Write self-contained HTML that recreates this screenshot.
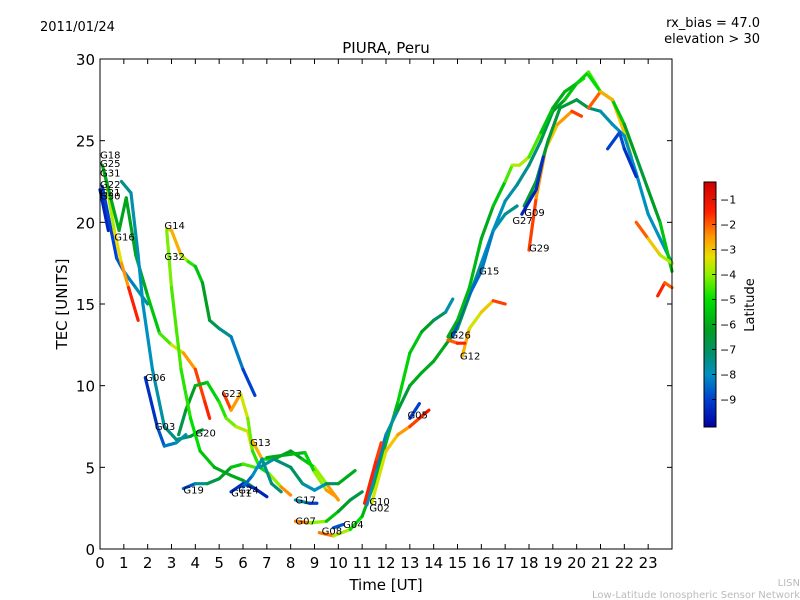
<!DOCTYPE html>
<html><head><meta charset="utf-8"><style>
body{margin:0;background:#fff;}
svg{display:block;font-family:"DejaVu Sans","Liberation Sans",sans-serif;}
</style></head><body>
<svg id="chart" width="800" height="600" viewBox="0 0 800 600" xmlns="http://www.w3.org/2000/svg">
<defs>
<linearGradient id="cbg" x1="0" y1="1" x2="0" y2="0" gradientUnits="objectBoundingBox"></linearGradient>
</defs>
<rect x="0" y="0" width="800" height="600" fill="#fff"/>
<text x="40" y="31" font-size="13">2011/01/24</text>
<text x="760" y="27" font-size="13" text-anchor="end">rx_bias = 47.0</text>
<text x="760" y="43" font-size="13" text-anchor="end">elevation &gt; 30</text>
<text x="386" y="53" font-size="15" text-anchor="middle">PIURA, Peru</text>
<g id="marks"></g>
<g id="glabels"></g>
<rect x="100" y="59" width="572" height="490" fill="none" stroke="#000" stroke-width="1"/>
<g id="xaxis"></g>
<g id="yaxis"></g>
<text x="386" y="590" font-size="15" text-anchor="middle">Time [UT]</text>
<text x="67" y="304" font-size="15" text-anchor="middle" transform="rotate(-90 67 304)">TEC [UNITS]</text>
<g id="cbar"></g>
<text x="754" y="305" font-size="13" text-anchor="middle" transform="rotate(-90 754 305)">Latitude</text>
<text x="800" y="586" font-size="10" fill="#bbb" text-anchor="end">LISN</text>
<text x="800" y="598" font-size="10" fill="#bbb" text-anchor="end">Low-Latitude Ionospheric Sensor Network</text>
</svg>
<script>
const tracks = [
 [[0,22,-9.5],[0.35,19.5,-9.5]],
 [[0.1,22.2,-9],[0.7,17.8,-9],[1.0,17,-8.5],[1.5,16,-8],[2,15,-7.5]],
 [[0.2,23,-4],[0.6,19.5,-3.5],[0.9,17.5,-3],[1.2,16,-2],[1.6,14,-1]],
 [[0.1,23.5,-6],[0.8,19.5,-6],[1.1,21.5,-6.2],[1.5,18,-6],[2,15.5,-6],[2.5,13.2,-5],[3,12.5,-4],[3.5,12,-3],[4,11,-2],[4.4,9,-1.5],[4.6,8,-1.5]],
 [[0.9,22.5,-7.5],[1.3,21.8,-7.5],[1.6,18,-8],[1.8,15,-8],[2.2,11,-8],[2.7,7.5,-7.5],[3.2,6.7,-7.2],[3.8,6.9,-7],[4.3,7.3,-6]],
 [[1.9,10.5,-9.5],[2.4,7.5,-9],[2.7,6.3,-8.5],[3.2,6.5,-8],[3.6,7,-7.5]],
 [[3.3,7,-7],[3.6,8.5,-6.5],[4.0,10,-6],[4.5,10.2,-5.5],[5,9,-5],[5.3,8,-4.5],[5.7,7.5,-4],[6.2,7.2,-3.5],[6.4,6,-3]],
 [[2.8,19.6,-3.5],[3.0,19.5,-2.5],[3.4,18,-3],[3.7,17.6,-4.5],[4,17.3,-5],[4.3,16.3,-6],[4.6,14,-6.5],[5,13.5,-7],[5.5,13,-8],[6,11,-8.5],[6.5,9.4,-9.5]],
 [[2.8,19.5,-3.8],[3.0,16,-4.5],[3.4,11,-4.5],[3.8,8,-5],[4.2,6,-5],[4.8,5,-6],[5.5,4.5,-6],[6,4.2,-6],[6.5,3.7,-7]],
 [[5.2,9.5,-1.5],[5.5,8.5,-2],[5.9,9.5,-3],[6.2,8,-4],[6.4,6,-4.5],[6.7,5,-5],[7.1,4.6,-5],[7.6,3.8,-3],[8,3.3,-1.8]],
 [[6.4,6.6,-1.5],[6.8,5.5,-4],[7.3,5.5,-6],[8,6,-6.5],[8.5,5.5,-6],[9,5,-5],[9.5,4,-3],[10,3,-2]],
 [[7,5.6,-6],[8,5.8,-6],[8.6,5.9,-5.5],[9,4.7,-5],[9.5,3.6,-3],[9.9,3.2,-2]],
 [[6.7,5,-8],[7.3,5.5,-7.5],[8,5,-7],[8.5,4,-7],[9,3.6,-8.5],[9.5,4,-7.5],[10,4,-6.5],[10.7,4.8,-5.5]],
 [[3.5,3.7,-9.5],[4,4,-8],[4.5,4,-7],[5,4.3,-6.5],[5.5,5,-6],[6,5.2,-5],[6.5,5,-4]],
 [[5.5,3.5,-9.5],[6,4,-9],[6.5,3.7,-9.5],[7,3.2,-9.5]],
 [[6,3.8,-9],[6.4,4.5,-8],[6.8,5.5,-8],[7.2,4,-7],[7.6,3.5,-7.5]],
 [[8.2,3,-7],[8.8,2.8,-8.5],[9.1,2.8,-9.5]],
 [[8.2,1.7,-1.5],[8.8,1.6,-3],[9.5,1.7,-5],[10,2.3,-6],[10.5,3,-6.5],[11,3.5,-7]],
 [[9.2,1,-1.5],[9.8,0.8,-3],[10.5,1.2,-4.5],[11,2,-5.5],[11.5,4,-6],[12,6.5,-6],[12.5,9,-5.5],[13,12,-5],[13.5,13.3,-6],[14,14,-6.5],[14.5,14.5,-7.5],[14.8,15.3,-8]],
 [[9.8,1.3,-9],[10.2,1.5,-8.5]],
 [[11.2,2.7,-8],[11.6,5,-8],[12,7,-8.5],[12.5,8.5,-7],[13,10,-6],[13.5,10.8,-6],[14,11.5,-6],[14.5,12.5,-6],[15,13.5,-6.5],[15.5,15.5,-7],[16,17.5,-8],[16.5,19.5,-8],[17,20.5,-7.5],[17.5,21,-7.5]],
 [[11.1,2.8,-1.5],[11.6,5.5,-1.5],[11.8,6.5,-2]],
 [[11.4,2.8,-4],[12,6,-3],[12.5,7,-3],[13,7.5,-2],[13.4,8,-1.5],[13.8,8.5,-1]],
 [[13,8,-9],[13.4,8.9,-9]],
 [[14.8,13,-9],[15.3,15,-8.5],[16,17,-8.5],[16.5,19.5,-8],[17,21.3,-8],[17.5,22.3,-7.5],[18,23.5,-7.5],[18.5,25,-7],[19,26.8,-6.5],[19.5,27.5,-6],[20,28.5,-5],[20.3,28.8,-4.5]],
 [[15.2,11.8,-2.5],[15.5,13.5,-3],[16,14.5,-4],[16.5,15.2,-2],[17,15,-1.5]],
 [[14.6,12.8,-2.5],[15,12.6,-1.5],[15.3,12.6,-1.5]],
 [[14.6,13,-6],[15,14,-6],[15.5,16,-5.5],[16,19,-6],[16.5,21,-6],[17,22.5,-5],[17.3,23.5,-4],[17.6,23.5,-3.5],[18,24,-4],[18.5,25.5,-5],[19,27,-6],[19.5,28,-6],[20,28.5,-5.5],[20.5,29.2,-5],[21,28,-4],[21.5,27.5,-3],[22,25.5,-3],[22.3,24,-3.5]],
 [[18,18.3,-1.5],[18.3,21.5,-2],[18.7,24.5,-3],[19.2,26,-3],[19.8,26.8,-2],[20.2,26.5,-1.5]],
 [[17.8,21,-6.5],[18.3,22.5,-6.5],[18.8,25,-6.5],[19.3,27,-6.5],[20,27.5,-6.5],[20.5,27,-7],[21,26.8,-7.5],[21.5,26,-8],[22,25.3,-8],[22.5,23,-8],[23,20.5,-8],[23.5,19,-8],[24,17.5,-8]],
 [[20.5,29,-5],[21,28,-5],[21.5,27.5,-5],[22,26,-6],[22.5,24,-6.5],[23,22,-6.5],[23.5,20,-6],[24,17,-5]],
 [[21.3,24.5,-9.5],[21.8,25.5,-8.5],[22,24.5,-9],[22.5,22.8,-9.5]],
 [[22.5,20,-1.5],[23,19,-2.5],[23.5,18,-3.5],[24,17.5,-4]],
 [[23.4,15.5,-1.5],[23.7,16.3,-1.5],[24,16,-2.5]],
 [[17.7,20.5,-9.5],[18.3,22,-9.5],[18.6,24,-9]],
 [[20.5,27,-1.5],[21,28,-2.5],[21.5,27.5,-3]]
];
const labelNames = ["G18","G25","G31","G22","G21","G30","G16","G14","G32","G06","G03","G20","G23","G13","G19","G11","G24","G17","G07","G08","G04","G10","G02","G05","G26","G12","G15","G27","G09","G29"];
const labelX = [0,0,0,0,0,0,0.6,2.7,2.7,1.9,2.3,4.0,5.1,6.3,3.5,5.5,5.8,8.2,8.2,9.3,10.2,11.3,11.3,12.9,14.7,15.1,15.9,17.3,17.8,18.0];
const labelY = [23.9,23.4,22.8,22.1,21.6,21.4,18.9,19.6,17.7,10.3,7.3,6.9,9.3,6.3,3.4,3.2,3.4,2.8,1.5,0.9,1.3,2.7,2.3,8.0,12.9,11.6,16.8,19.9,20.4,18.2];
const xTicks = [0,1,2,3,4,5,6,7,8,9,10,11,12,13,14,15,16,17,18,19,20,21,22,23];
const yTicks = [0,5,10,15,20,25,30];
const cbTicks = [-1,-2,-3,-4,-5,-6,-7,-8,-9];

const NS="http://www.w3.org/2000/svg";
const X0=100,X1=672,Y0=549,Y1=59,XMAX=24,YMAX=30;
function sx(h){return X0+h*(X1-X0)/XMAX;}
function sy(v){return Y0-v*(Y0-Y1)/YMAX;}
const LMIN=-10.1,LMAX=-0.3,CB_TOP=182,CB_BOT=427;
function cy(l){return CB_BOT-(l-LMIN)/(LMAX-LMIN)*(CB_BOT-CB_TOP);}
const stops=[[-10.1,[0,0,160]],[-9,[0,64,208]],[-8,[0,144,192]],[-7.2,[0,144,112]],[-6.2,[0,160,32]],[-5,[0,224,0]],[-4,[144,240,0]],[-3.3,[232,224,0]],[-2.5,[255,153,0]],[-1.5,[255,32,0]],[-0.3,[204,0,0]]];
function col(l){
 if(l<=stops[0][0])return 'rgb('+stops[0][1]+')';
 for(let i=1;i<stops.length;i++){if(l<=stops[i][0]){const a=stops[i-1],b=stops[i];const t=(l-a[0])/(b[0]-a[0]);
 const c=a[1].map((v,k)=>Math.round(v+(b[1][k]-v)*t));return 'rgb('+c.join(',')+')';}}
 return 'rgb('+stops[stops.length-1][1]+')';
}
function mk(tag,attrs,parent){const e=document.createElementNS(NS,tag);for(const k in attrs)e.setAttribute(k,attrs[k]);parent.appendChild(e);return e;}
const marks=document.getElementById('marks');
tracks.forEach((tr,ti)=>{
 const g=mk('g',{},marks);
 
 
 for(let i=1;i<tr.length;i++){
  const a=tr[i-1],b=tr[i];
  const ln=mk('line',{x1:sx(a[0]),y1:sy(a[1]),x2:sx(b[0]),y2:sy(b[1]),stroke:col((a[2]+b[2])/2),'stroke-width':3.2,'stroke-linecap':'round'},g);
  
  
 }
});
const gl=document.getElementById('glabels');
labelNames.forEach((n,i)=>{
 const t=mk('text',{x:sx(labelX[i]),y:sy(labelY[i]),'font-size':10},gl);
 t.textContent=n;
 
 
});
const xa=document.getElementById('xaxis');
xTicks.forEach(h=>{
 const x=sx(h);
 const t1=mk('line',{x1:x,y1:Y0,x2:x,y2:Y0-5,stroke:'#000'},xa);
 
 
 const t2=mk('line',{x1:x,y1:Y1,x2:x,y2:Y1+5,stroke:'#000'},xa);
 
 
 const tx=mk('text',{x:x,y:568,'font-size':15,'text-anchor':'middle'},xa);
 tx.textContent=h;
 
 
});
const ya=document.getElementById('yaxis');
yTicks.forEach(v=>{
 const y=sy(v);
 const t1=mk('line',{x1:X0,y1:y,x2:X0+5,y2:y,stroke:'#000'},ya);
 
 
 const t2=mk('line',{x1:X1,y1:y,x2:X1-5,y2:y,stroke:'#000'},ya);
 
 
 const tx=mk('text',{x:95,y:y+6,'font-size':15,'text-anchor':'end'},ya);
 tx.textContent=v;
 
 
});
const grad=document.getElementById('cbg');
stops.forEach(s=>{mk('stop',{offset:(s[0]-LMIN)/(LMAX-LMIN),'stop-color':'rgb('+s[1]+')'},grad);});
const cb=document.getElementById('cbar');
const cr=mk('rect',{x:704,y:CB_TOP,width:12,height:CB_BOT-CB_TOP,fill:'url(#cbg)',stroke:'#000','stroke-width':1},cb);


cbTicks.forEach(l=>{
 const y=cy(l);
 const t1=mk('line',{x1:712,y1:y,x2:716,y2:y,stroke:'#000'},cb);
 
 
 const tx=mk('text',{x:720,y:y+4,'font-size':11},cb);
 tx.textContent='\u2212'+(-l);
 
 
});
</script>
</body></html>
